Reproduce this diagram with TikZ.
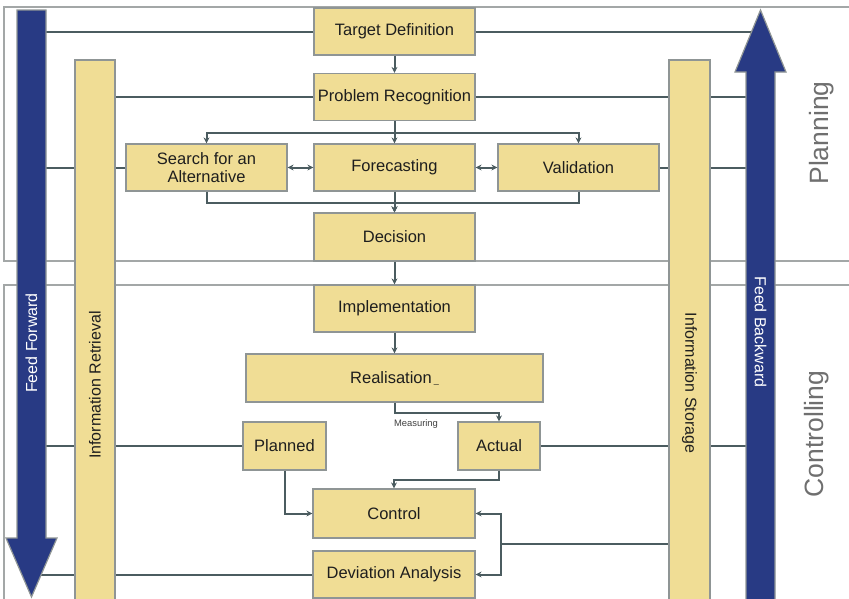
\documentclass[tikz,border=0pt]{standalone}
\usepackage{fontspec}
\setmainfont{Liberation Sans}
\usetikzlibrary{arrows.meta,calc}
\definecolor{boxfill}{HTML}{F0DD95}
\definecolor{boxline}{HTML}{8F9595}
\definecolor{conncol}{HTML}{4B5C60}
\definecolor{navy}{HTML}{283A84}
\definecolor{framecol}{HTML}{A3A7A7}
\definecolor{labelgray}{HTML}{6F6F6F}
\definecolor{txt}{HTML}{1E1E1E}
\begin{document}
\begin{tikzpicture}[x=1pt,y=-1pt,
 box/.style={draw=boxline,fill=boxfill,line width=1.2pt,inner sep=0pt,text=txt,font=\fontsize{16.5}{18.5}\selectfont,align=center},
 conn/.style={draw=conncol,line width=2pt},
 tip/.style={-{Stealth[length=6pt,width=6pt]}},
 dtip/.style={{Stealth[length=6pt,width=6pt]}-{Stealth[length=6pt,width=6pt]}},
 bar/.style={draw=boxline,fill=boxfill,line width=1.2pt,inner sep=0pt},
 bigarrow/.style={draw=boxline,fill=navy,line width=1.2pt},
 frame/.style={draw=framecol,line width=1.5pt},
 side/.style={text=labelgray,font=\fontsize{26.5}{30}\selectfont},
 bartext/.style={text=txt,font=\fontsize{16}{18}\selectfont},
 arrtext/.style={text=white,font=\fontsize{16}{18}\selectfont},
]
\useasboundingbox (0,0) rectangle (849,598);
\clip (0,0) rectangle (849,598);

% frames
\draw[frame] (860,7) -- (4,7) -- (4,261) -- (860,261);
\draw[frame] (860,285) -- (4,285) -- (4,610);

% bar centre coordinates
\coordinate (ffc) at (31.5,0);
\coordinate (irc) at (95,0);
\coordinate (isc) at (689.5,0);
\coordinate (fbc) at (760.5,0);

% boxes
\node[box,minimum width=161pt,minimum height=47pt] (td) at (394.5,31.5) {Target Definition};
\node[box,minimum width=161pt,minimum height=47pt] (pr) at (394.5,97) {Problem Recognition};
\node[box,minimum width=161pt,minimum height=47pt] (sa) at (206.5,167.5) {Search for an\\Alternative};
\node[box,minimum width=161pt,minimum height=47pt] (fc) at (394.5,167.5) {Forecasting};
\node[box,minimum width=161pt,minimum height=47pt] (va) at (578.5,167.5) {Validation};
\node[box,minimum width=161pt,minimum height=48pt] (de) at (394.5,237) {Decision};
\node[box,minimum width=161pt,minimum height=47pt] (im) at (394.5,308.5) {Implementation};
\node[box,minimum width=297pt,minimum height=48pt] (re) at (394.5,378) {Realisation\hspace{2pt}{\fontsize{9}{9}\selectfont\_}};
\node[box,minimum width=83pt,minimum height=48pt] (pl) at (284.5,446) {Planned};
\node[box,minimum width=82pt,minimum height=48pt] (ac) at (499,446) {Actual};
\node[box,minimum width=162pt,minimum height=49pt] (co) at (394,513.5) {Control};
\node[box,minimum width=162pt,minimum height=47pt] (da) at (394,574.5) {Deviation Analysis};

% connectors to the side bars
\draw[conn] (td.west) -- (td.west -| ffc);
\draw[conn] (td.east) -- (td.east -| fbc);
\draw[conn] (pr.west) -- (pr.west -| irc);
\draw[conn] (pr.east) -- (pr.east -| fbc);
\draw[conn] (sa.west) -- (sa.west -| ffc);
\draw[conn] (va.east) -- (va.east -| fbc);
\draw[conn] (pl.west) -- (pl.west -| ffc);
\draw[conn] (ac.east) -- (ac.east -| fbc);
\draw[conn] (da.west) -- (da.west -| ffc);
\coordinate (dv) at (500,544);
\draw[conn] (dv) -- (dv -| isc);

% flow connectors
\draw[conn,tip] (td.south) -- (pr.north);
\draw[conn,tip] (pr.south) -- ++(0,12) -| (sa.north);
\draw[conn,tip] (pr.south) -- ++(0,12) -| (va.north);
\draw[conn,tip] (pr.south) -- (fc.north);
\draw[conn,dtip] (sa.east) -- (fc.west);
\draw[conn,dtip] (fc.east) -- (va.west);
\draw[conn,tip] (sa.south) -- ++(0,11) -| (de.north);
\draw[conn,tip] (va.south) -- ++(0,11) -| (de.north);
\draw[conn,tip] (fc.south) -- (de.north);
\draw[conn,tip] (de.south) -- (im.north);
\draw[conn,tip] (im.south) -- (re.north);
\draw[conn,tip] (re.south) -- ++(0,10) -| (ac.north);
\node[font=\fontsize{9.4}{11}\selectfont,text=txt!85] (meas) at (416,424) {Measuring};
\draw[conn,tip] (ac.south) -- ++(0,9) -| (co.north);
\draw[conn,tip] (pl.south) |- (co.west);
\draw[conn,dtip] (co.east) -- ++(25,0) |- (da.east);

% side bars
\node[bar,minimum width=40pt,minimum height=560pt] (ir) at (95,340) {};
\node[bartext,rotate=90] (irt) at (95,385) {Information Retrieval};
\node[bar,minimum width=41pt,minimum height=560pt] (is) at (689.5,340) {};
\node[bartext,rotate=-90] (ist) at (689.5,383) {Information Storage};

% feed arrows
\draw[bigarrow] (17,10) -- (46,10) -- (46,538) -- (57,538) -- (31.5,597) -- (6,538) -- (17,538) -- cycle;
\node[arrtext,rotate=90] (fft) at (31.5,343) {Feed Forward};
\draw[bigarrow] (746,610) -- (746,72) -- (735,72) -- (760.5,10) -- (786,72) -- (775,72) -- (775,610);
\node[arrtext,rotate=-90] (fbt) at (760.5,332) {Feed Backward};

% phase labels
\node[side,rotate=90] (plan) at (822,133) {Planning};
\node[side,rotate=90] (ctrl) at (817,434) {Controlling};
\end{tikzpicture}
\end{document}
